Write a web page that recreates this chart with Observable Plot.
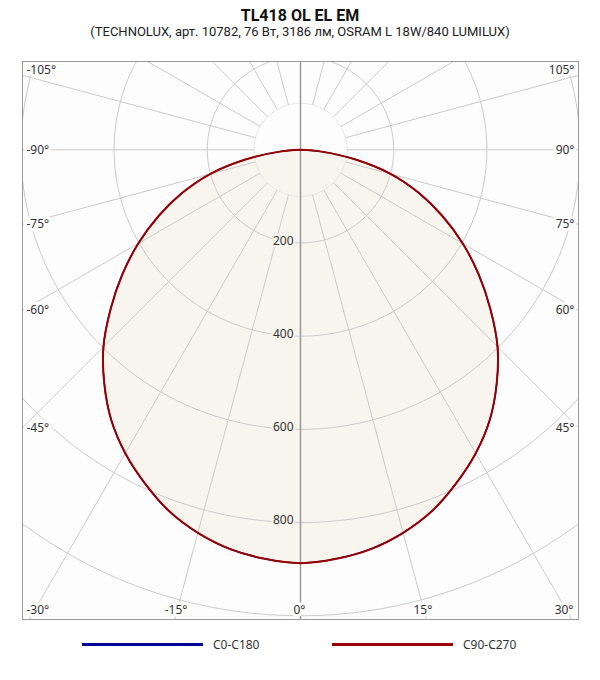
<!DOCTYPE html>
<html><head><meta charset="utf-8">
<script src="https://cdn.jsdelivr.net/npm/d3@7"></script>
<script src="https://cdn.jsdelivr.net/npm/@observablehq/plot@0.6"></script>
<style>
body{margin:0;background:#fff;width:600px;height:680px;position:relative;overflow:hidden}
#title{position:absolute;top:7px;left:0;width:600px;text-align:center;font:bold 16px/18px Roboto,sans-serif;color:#111}
#subtitle{position:absolute;top:25px;left:0;width:600px;text-align:center;font:13px/13px Roboto,sans-serif;color:#222}
#chart{position:absolute;top:52px;left:0}
.leg-line{position:absolute;top:643px;height:3px;width:121px}
.leg-text{position:absolute;top:636.5px;font:12px/16px "Noto Sans",sans-serif;color:#333;white-space:nowrap}
</style></head><body>
<div id="title">TL418 OL EL EM</div>
<div id="subtitle">(TECHNOLUX, арт. 10782, 76 Вт, 3186 лм, OSRAM L 18W/840 LUMILUX)</div>
<div id="chart"></div>
<div id="legend"></div>
<script>
// ---- data (candela) ----
const angles = [-90,-85,-80,-75,-70,-65,-60,-55,-50,-45,-40,-35,-30,-25,-20,-15,-10,-5,0,5,10,15,20,25,30,35,40,45,50,55,60,65,70,75,80,85,90];
const c90c270 = [0,45,120,201,270,336,402,467,532,598,655,708,752,790,825,851,870,881,887,881,870,851,825,790,752,708,655,598,532,467,402,336,270,201,120,45,0];
const c0c180  = [0,45,120,201,270,336,402,467,532,598,655,708,752,790,825,851,870,881,887,881,870,851,825,790,752,708,655,598,532,467,402,336,270,201,120,45,0];
const ringValues = [200,400,600,800,1000,1200];
const innerRing = [100];
const ringLabels = [200,400,600,800];
const spokeAngles = [15,30,45,60,75,90,105,120,135,150,165,195,210,225,240,255,270,285,300,315,330,345];
const angleTicks = [-105,-90,-75,-60,-45,-30,-15,0,15,30,45,60,75,90,105];
const seriesNames = ["C0-C180","C90-C270"];
const seriesColors = ["#000099","#990000"];

// ---- geometry ----
const W = 600, H = 578, mL = 22, mR = 22, mT = 9, mB = 11;
const k = 0.466;              // px per cd
const cx = 300, cy = 97.3;    // pole position inside the svg
const xDomain = [-(cx - mL) / k, (W - mR - cx) / k];
const yTop = -(cy - mT) / k, yBot = (H - mB - cy) / k;
const rad = a => a * Math.PI / 180;
const polar = (r, a) => ({x: r * Math.sin(rad(a)), y: r * Math.cos(rad(a))});

const curve = (vals) => angles.map((a, i) => polar(vals[i], a));
const c0pts = curve(c0c180), c90pts = curve(c90c270);

const ringPts = (list) => list.flatMap(r => d3.range(0, 361, 2).map(a => ({ring: r, ...polar(r, a)})));
const spokes = spokeAngles.map(a => {
  const p1 = polar(100, a), p2 = polar(1600, a);
  return {x1: p1.x, y1: p1.y, x2: p2.x, y2: p2.y};
});

const tickPos = angleTicks.map(a => {
  const s = Math.sin(rad(a)), c = Math.cos(rad(a));
  const label = a + "°";
  if (Math.abs(a) >= 45) {
    const x = a < 0 ? xDomain[0] : xDomain[1];
    let y = (x / s) * c;
    if (Math.abs(a) > 90) y = yTop + 9 / k;
    return {label, x, y, anchor: a < 0 ? "start" : "end", dx: a < 0 ? 4 : -4};
  }
  const y = yBot - 9 / k;
  if (Math.abs(a) >= 30) {
    return {label, x: a < 0 ? xDomain[0] : xDomain[1], y, anchor: a < 0 ? "start" : "end", dx: a < 0 ? 4 : -5};
  }
  return {label, x: y * s / c, y, anchor: "middle", dx: -1};
});

const font = "Noto Sans, sans-serif";
const grid = "#cbcbcb";
const fillCol = "#f8f5ef";
const bg = "#fdfdfd";

const chart = Plot.plot({
  width: W, height: H,
  marginLeft: mL, marginRight: mR, marginTop: mT, marginBottom: mB,
  x: {domain: xDomain, axis: null},
  y: {domain: [yBot, yTop], axis: null},
  style: {background: "transparent", overflow: "visible"},
  marks: [
    Plot.frame({fill: bg, stroke: "none"}),
    Plot.line(c90pts, {x: "x", y: "y", curve: "catmull-rom", fill: fillCol, stroke: "none"}),
    Plot.line(ringPts(innerRing), {x: "x", y: "y", z: "ring", stroke: "#e6e6e6", strokeWidth: 1, clip: true}),
    Plot.line(ringPts(ringValues), {x: "x", y: "y", z: "ring", stroke: grid, strokeWidth: 1, clip: true}),
    Plot.link(spokes, {x1: "x1", y1: "y1", x2: "x2", y2: "y2", stroke: grid, strokeWidth: 1, clip: true}),
    Plot.ruleX([0], {stroke: "#999", strokeWidth: 1.5}),
    Plot.line(c0pts, {x: "x", y: "y", curve: "catmull-rom", stroke: seriesColors[0], strokeWidth: 1.5, strokeLinejoin: "round"}),
    Plot.line(c90pts, {x: "x", y: "y", curve: "catmull-rom", stroke: seriesColors[1], strokeWidth: 2, strokeLinejoin: "round"}),
    Plot.text(ringLabels, {x: () => 0, y: d => d, text: d => String(d), textAnchor: "end", dx: -7, dy: -2,
      fill: "#333", stroke: fillCol, strokeWidth: 4, fontSize: 12, fontFamily: font}),
    Plot.text(tickPos, {x: "x", y: "y", text: "label", textAnchor: d => d.anchor, dx: 0,
      fill: "#333", stroke: bg, strokeWidth: 6, fontSize: 12, fontFamily: font}),
    Plot.frame({stroke: "#9a9a9a", fill: "none"})
  ]
});
document.getElementById("chart").appendChild(chart);

// per-label anchor and horizontal inset
{
  const groups = chart.querySelectorAll("g[aria-label='text']");
  const tg = groups[groups.length - 1];
  if (tg) {
    tg.querySelectorAll("text").forEach((t, i) => {
      const d = tickPos[i];
      t.setAttribute("text-anchor", d.anchor);
      const tr = t.getAttribute("transform") || "";
      t.setAttribute("transform", tr + ` translate(${d.dx},0)`);
    });
  }
}

// legend
const legend = document.getElementById("legend");
const legX = [[82, 213], [332, 463]];
seriesNames.forEach((n, i) => {
  const l = document.createElement("div");
  l.className = "leg-line"; l.style.left = legX[i][0] + "px"; l.style.background = seriesColors[i];
  const t = document.createElement("div");
  t.className = "leg-text"; t.style.left = legX[i][1] + "px"; t.textContent = n;
  legend.appendChild(l); legend.appendChild(t);
});
</script>
</body></html>
